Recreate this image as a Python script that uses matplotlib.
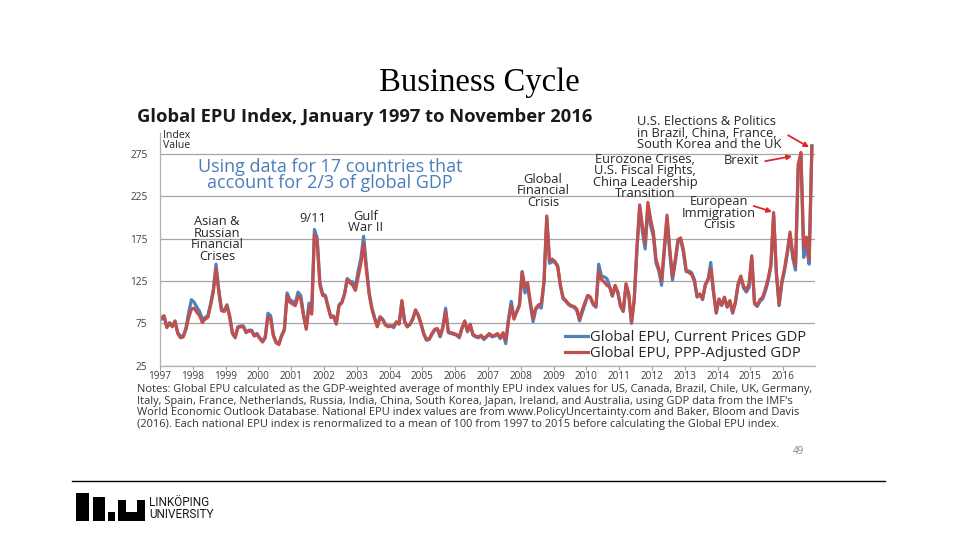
import numpy as np
import matplotlib
matplotlib.use('Agg')
import matplotlib.pyplot as plt
from matplotlib.patches import Rectangle
from matplotlib.lines import Line2D

# Monthly Global EPU index, Jan 1997 - Nov 2016
years = list(range(1997, 2017))

ppp_adjusted = [
    82, 84, 70, 75, 71, 78, 63, 58, 59, 68, 82, 92,          # 1997
    93, 88, 84, 76, 80, 82, 96, 112, 140, 112, 90, 89,       # 1998
    96, 82, 63, 58, 70, 71, 71, 64, 66, 66, 60, 62,          # 1999
    57, 53, 58, 83, 80, 60, 52, 50, 60, 67, 108, 100,        # 2000
    98, 96, 107, 104, 84, 68, 94, 86, 180, 172, 120, 108,    # 2001
    107, 94, 82, 83, 74, 96, 99, 109, 127, 123, 120, 114,    # 2002
    130, 146, 170, 138, 110, 92, 81, 71, 82, 79, 73, 71,     # 2003
    72, 72, 77, 74, 102, 77, 71, 74, 81, 91, 85, 75,         # 2004
    63, 56, 57, 63, 68, 69, 60, 71, 89, 65, 64, 63,          # 2005
    62, 59, 70, 78, 66, 74, 62, 60, 59, 61, 57, 60,          # 2006
    63, 60, 61, 63, 58, 64, 55, 78, 96, 80, 88, 96,          # 2007
    136, 118, 123, 100, 81, 93, 97, 98, 125, 202, 150, 151,  # 2008
    148, 143, 120, 105, 102, 98, 96, 95, 92, 80, 91, 100,    # 2009
    108, 106, 98, 95, 137, 127, 124, 120, 118, 108, 120, 112,  # 2010
    96, 90, 122, 110, 76, 104, 165, 215, 190, 170, 218, 198,   # 2011
    183, 150, 140, 125, 165, 203, 163, 130, 150, 174, 176, 162,  # 2012
    138, 135, 133, 125, 107, 110, 104, 121, 127, 140, 112, 88,   # 2013
    104, 97, 106, 95, 102, 88, 100, 122, 131, 119, 114, 122,     # 2014
    155, 100, 96, 103, 106, 116, 128, 145, 206, 136, 97, 125,    # 2015
    140, 160, 183, 157, 143, 263, 277, 165, 177, 150, 284,       # 2016
]

current_prices = [
    80, 83, 71, 76, 72, 77, 64, 60, 60, 70, 88, 103,
    100, 94, 89, 80, 82, 84, 98, 115, 145, 115, 92, 90,
    97, 84, 64, 59, 71, 72, 72, 65, 67, 67, 61, 63,
    58, 54, 59, 87, 84, 61, 53, 51, 61, 68, 111, 103,
    101, 99, 112, 108, 86, 70, 99, 90, 186, 176, 123, 110,
    108, 95, 83, 84, 75, 97, 100, 110, 128, 125, 124, 118,
    137, 152, 178, 143, 112, 94, 82, 72, 83, 80, 74, 72,
    72, 70, 76, 75, 101, 77, 71, 74, 80, 90, 84, 74,
    62, 55, 56, 62, 67, 68, 59, 70, 93, 64, 63, 62,
    61, 58, 69, 77, 65, 73, 61, 59, 58, 60, 56, 59,
    62, 59, 60, 62, 57, 63, 51, 80, 101, 82, 89, 97,
    136, 111, 118, 97, 77, 92, 95, 93, 124, 200, 146, 148,
    147, 142, 119, 104, 101, 97, 95, 94, 90, 78, 88, 98,
    108, 105, 97, 94, 145, 131, 130, 128, 119, 107, 119, 111,
    95, 89, 120, 108, 75, 102, 162, 212, 183, 163, 213, 190,
    178, 146, 137, 120, 160, 199, 158, 126, 147, 171, 173, 159,
    136, 137, 135, 127, 106, 109, 103, 120, 126, 147, 113, 87,
    103, 96, 105, 94, 101, 87, 99, 120, 129, 117, 112, 117,
    152, 98, 95, 101, 104, 113, 125, 142, 203, 134, 96, 122,
    137, 157, 180, 152, 138, 258, 273, 153, 167, 145, 285,
]

y_ticks = [25, 75, 125, 175, 225, 275]

notes = [
    "Notes: Global EPU calculated as the GDP-weighted average of monthly EPU index values for US, Canada, Brazil, Chile, UK, Germany,",
    "Italy, Spain, France, Netherlands, Russia, India, China, South Korea, Japan, Ireland, and Australia, using GDP data from the IMF's",
    "World Economic Outlook Database. National EPU index values are from www.PolicyUncertainty.com and Baker, Bloom and Davis",
    "(2016). Each national EPU index is renormalized to a mean of 100 from 1997 to 2015 before calculating the Global EPU index.",
]

BLUE = '#4f81bd'
RED = '#c0504d'
ARROW = '#e0262d'
TXT = '#262626'

plt.rcParams['font.family'] = ['Open Sans', 'DejaVu Sans']

fig = plt.figure(figsize=(9.6, 5.4), dpi=100)
fig.patch.set_facecolor('white')


def fx(x):
    return x / 960


def fy(y):
    return 1 - y / 540


# slide title
fig.text(fx(479), fy(83), 'Business Cycle', ha='center', va='center',
         family='Liberation Serif', fontsize=23.5, color='black')

# chart
ax = fig.add_axes([fx(160), fy(365.7), 655 / 960, 232.7 / 540])
months = np.arange(len(ppp_adjusted))
x = 1997 + (months + 0.5) / 12

ax.plot(x, current_prices, color=BLUE, lw=2.3, solid_joinstyle='round')
ax.plot(x, ppp_adjusted, color=RED, lw=2.3, solid_joinstyle='round')

ax.set_xlim(1997, 2016.97)
ax.set_ylim(25, 300)
ax.set_yticks(y_ticks)
ax.set_xticks(years)
ax.set_xticklabels([str(y) for y in years])
ax.tick_params(axis='y', length=0, pad=9, labelsize=7.3, labelcolor='#404040')
ax.tick_params(axis='x', length=3, width=0.8, color='#a0a0a0', pad=0.5,
               labelsize=7.2, labelcolor='#404040')
ax.grid(axis='y', color='#a6a6a6', lw=0.9)
ax.set_axisbelow(True)
for s in ['top', 'right']:
    ax.spines[s].set_visible(False)
for s in ['left', 'bottom']:
    ax.spines[s].set_color('#b0b0b0')
    ax.spines[s].set_linewidth(0.9)

# chart title and labels
fig.text(fx(137), fy(117), 'Global EPU Index, January 1997 to November 2016',
         ha='left', va='center', fontsize=13.2, weight='bold', color='#1a1a1a')
ax.text(1997.09, 291.5, 'Index\nValue', ha='left', va='center', fontsize=7.6,
        color=TXT, linespacing=0.9)
ax.text(2002.18, 250.3, 'Using data for 17 countries that\naccount for 2/3 of global GDP',
        ha='center', va='center', fontsize=13, color='#4a7ebb', linespacing=0.88)

ann = dict(ha='center', va='center', fontsize=9.3, color=TXT, linespacing=0.86)
ax.text(1998.74, 174.5, 'Asian &\nRussian\nFinancial\nCrises', **ann)
ax.text(2001.66, 198.6, '9/11', **ann)
ax.text(2003.28, 195.0, 'Gulf\nWar II', **ann)
ax.text(2008.68, 231.5, 'Global\nFinancial\nCrisis', **ann)
ax.text(2011.79, 248.5, 'Eurozone Crises,\nU.S. Fiscal Fights,\nChina Leadership\nTransition', **ann)
ax.text(2014.04, 205.0, 'European\nImmigration\nCrisis', **ann)
ax.text(2014.74, 267.9, 'Brexit', **ann)
ax.text(2011.54, 299.6, 'U.S. Elections & Politics\nin Brazil, China, France,\nSouth Korea and the UK',
        ha='left', va='center', fontsize=9.3, color=TXT, linespacing=0.86)

arrow = dict(arrowstyle='-|>', color=ARROW, lw=1.3, mutation_scale=7,
             shrinkA=0, shrinkB=0)
ax.annotate('', xy=(2015.66, 206.8), xytext=(2015.1, 213.8), arrowprops=arrow)
ax.annotate('', xy=(2016.27, 272.6), xytext=(2015.45, 266.7), arrowprops=arrow)
ax.annotate('', xy=(2016.79, 283.2), xytext=(2016.15, 297.3), arrowprops=arrow,
            annotation_clip=False)

# legend
handles = [Line2D([], [], color=BLUE, lw=2.3), Line2D([], [], color=RED, lw=2.3)]
ax.legend(handles, ['Global EPU, Current Prices GDP', 'Global EPU, PPP-Adjusted GDP'],
          loc='center left', bbox_to_anchor=(0.61, 0.086), frameon=False,
          fontsize=10.6, handlelength=1.55, handletextpad=0.1, labelspacing=0.08,
          borderaxespad=0, labelcolor=TXT)

# notes under the chart
for i, line in enumerate(notes):
    fig.text(fx(137), fy(389.5 + 11.7 * i), line, ha='left', va='center',
             fontsize=7.9, color='#333333')

# slide footer
fig.text(fx(798), fy(452), '49', ha='center', va='center', fontsize=7, color='#7f7f7f')
fig.add_artist(Line2D([fx(72), fx(885)], [fy(481), fy(481)], color='black', lw=1))

for (lx, ly, w, h) in [(76, 493, 13, 28), (93, 497, 12, 24), (108, 512, 7, 9),
                       (118, 500, 8, 21), (137, 500, 8, 21), (118, 512, 27, 9)]:
    fig.add_artist(Rectangle((fx(lx), fy(ly + h)), w / 960, h / 540,
                             transform=fig.transFigure, color='black', lw=0))
fig.text(fx(149), fy(503), 'LINKÖPING', ha='left', va='center', fontsize=8.5,
         family='Roboto', color='#1a1a1a')
fig.text(fx(149), fy(515), 'UNIVERSITY', ha='left', va='center', fontsize=8.5,
         family='Roboto', color='#1a1a1a')

fig.savefig('out.png', dpi=100, facecolor='white')
